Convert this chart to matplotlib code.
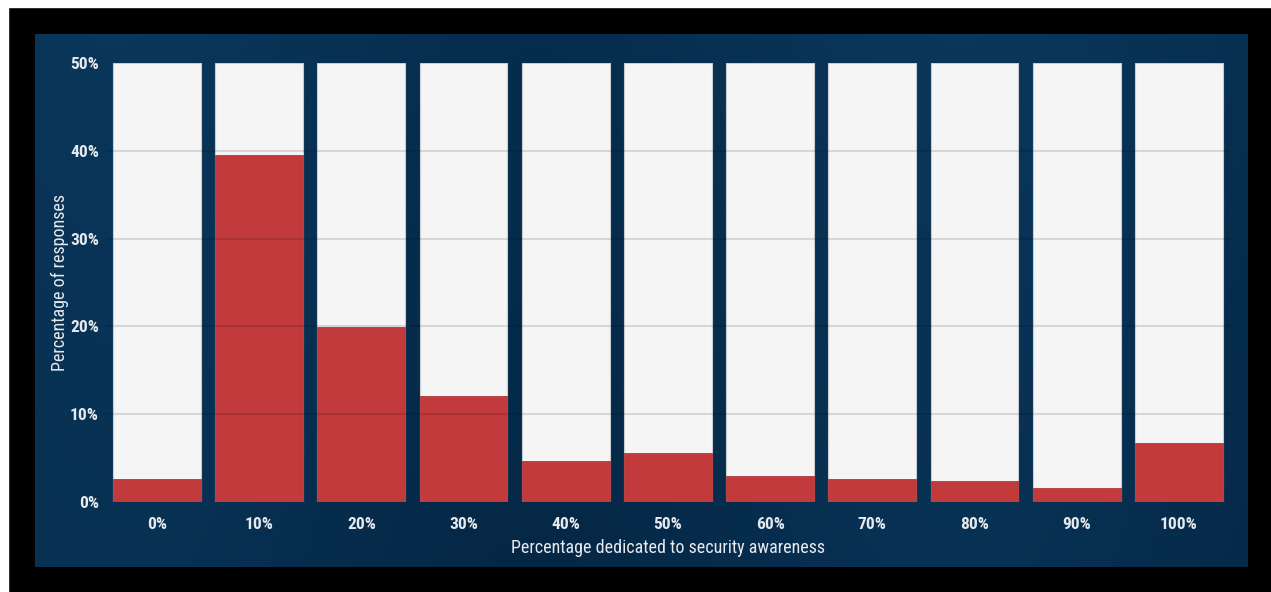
import numpy as np
import matplotlib

matplotlib.use("Agg")
import matplotlib.pyplot as plt
from matplotlib.patches import Rectangle

# share of responses per budget bucket
categories = ["0%", "10%", "20%", "30%", "40%", "50%", "60%", "70%", "80%", "90%", "100%"]
responses = [2.6, 39.5, 19.9, 12.1, 4.7, 5.6, 3.0, 2.6, 2.4, 1.6, 6.7]
y_ticks = [0, 10, 20, 30, 40, 50]
y_max = 50

plt.rcParams["font.family"] = ["Roboto Condensed", "Open Sans Condensed",
                               "DejaVu Sans Condensed", "Liberation Sans Narrow",
                               "Lato", "DejaVu Sans"]
text_col = "#e6e9ee"

fig = plt.figure(figsize=(12.71, 5.92), dpi=100, facecolor="black")
W, H = 1271, 592

# white strip top/left, then blue panel
fig.patches.append(Rectangle((0, 1 - 7 / H), 1, 7 / H, transform=fig.transFigure,
                             color="white", zorder=-5))
fig.patches.append(Rectangle((0, 0), 8 / W, 1, transform=fig.transFigure,
                             color="white", zorder=-5))

bg = fig.add_axes([35 / W, (592 - 567) / H, (1248 - 35) / W, (567 - 34) / H], zorder=-1)
gx = np.linspace(0, 1, 300)
gy = np.linspace(0, 1, 150)
X, Y = np.meshgrid(gx, gy)
shade = 0.45 + 0.25 * np.sin(X * 9 + 1.0) * 0.5 + 0.15 * (1 - Y)
c0 = np.array([0x02, 0x1c, 0x36]) / 255
c1 = np.array([0x0c, 0x40, 0x68]) / 255
img = c0 + (c1 - c0) * shade[..., None].clip(0, 1)
bg.imshow(img, aspect="auto", extent=[0, 1, 0, 1], interpolation="bilinear")
bg.axis("off")

ax = fig.add_axes([105.9 / W, (592 - 502) / H, 1124 / W, (502 - 63) / H])
ax.patch.set_alpha(0)
x = np.arange(len(categories))

ax.bar(x, [y_max] * len(x), width=0.86, color="#f5f5f5", edgecolor="#c9cdd2",
       linewidth=0.8, zorder=1)
ax.bar(x, responses, width=0.86, color="#c23a3c", edgecolor="#b0393b",
       linewidth=0.6, zorder=2)

for t in y_ticks[1:-1]:
    ax.axhline(t, color="black", alpha=0.12, linewidth=1.5, zorder=3)

ax.set_xlim(-0.5, len(x) - 0.5)
ax.set_ylim(0, y_max)
ax.set_xticks(x)
ax.set_xticklabels(categories)
ax.set_yticks(y_ticks)
ax.set_yticklabels([f"{t}%" for t in y_ticks])
ax.tick_params(axis="both", length=0, colors=text_col, labelsize=12.5)
ax.tick_params(axis="x", pad=11)
ax.tick_params(axis="y", pad=5)
for lab in ax.get_xticklabels() + ax.get_yticklabels():
    lab.set_fontweight("semibold")
for s in ax.spines.values():
    s.set_visible(False)

ax.set_xlabel("Percentage dedicated to security awareness", color=text_col,
              fontsize=13, labelpad=5)
ax.set_ylabel("Percentage of responses", color=text_col, fontsize=13, labelpad=1)

fig.savefig("out.png", dpi=100, facecolor="black")
